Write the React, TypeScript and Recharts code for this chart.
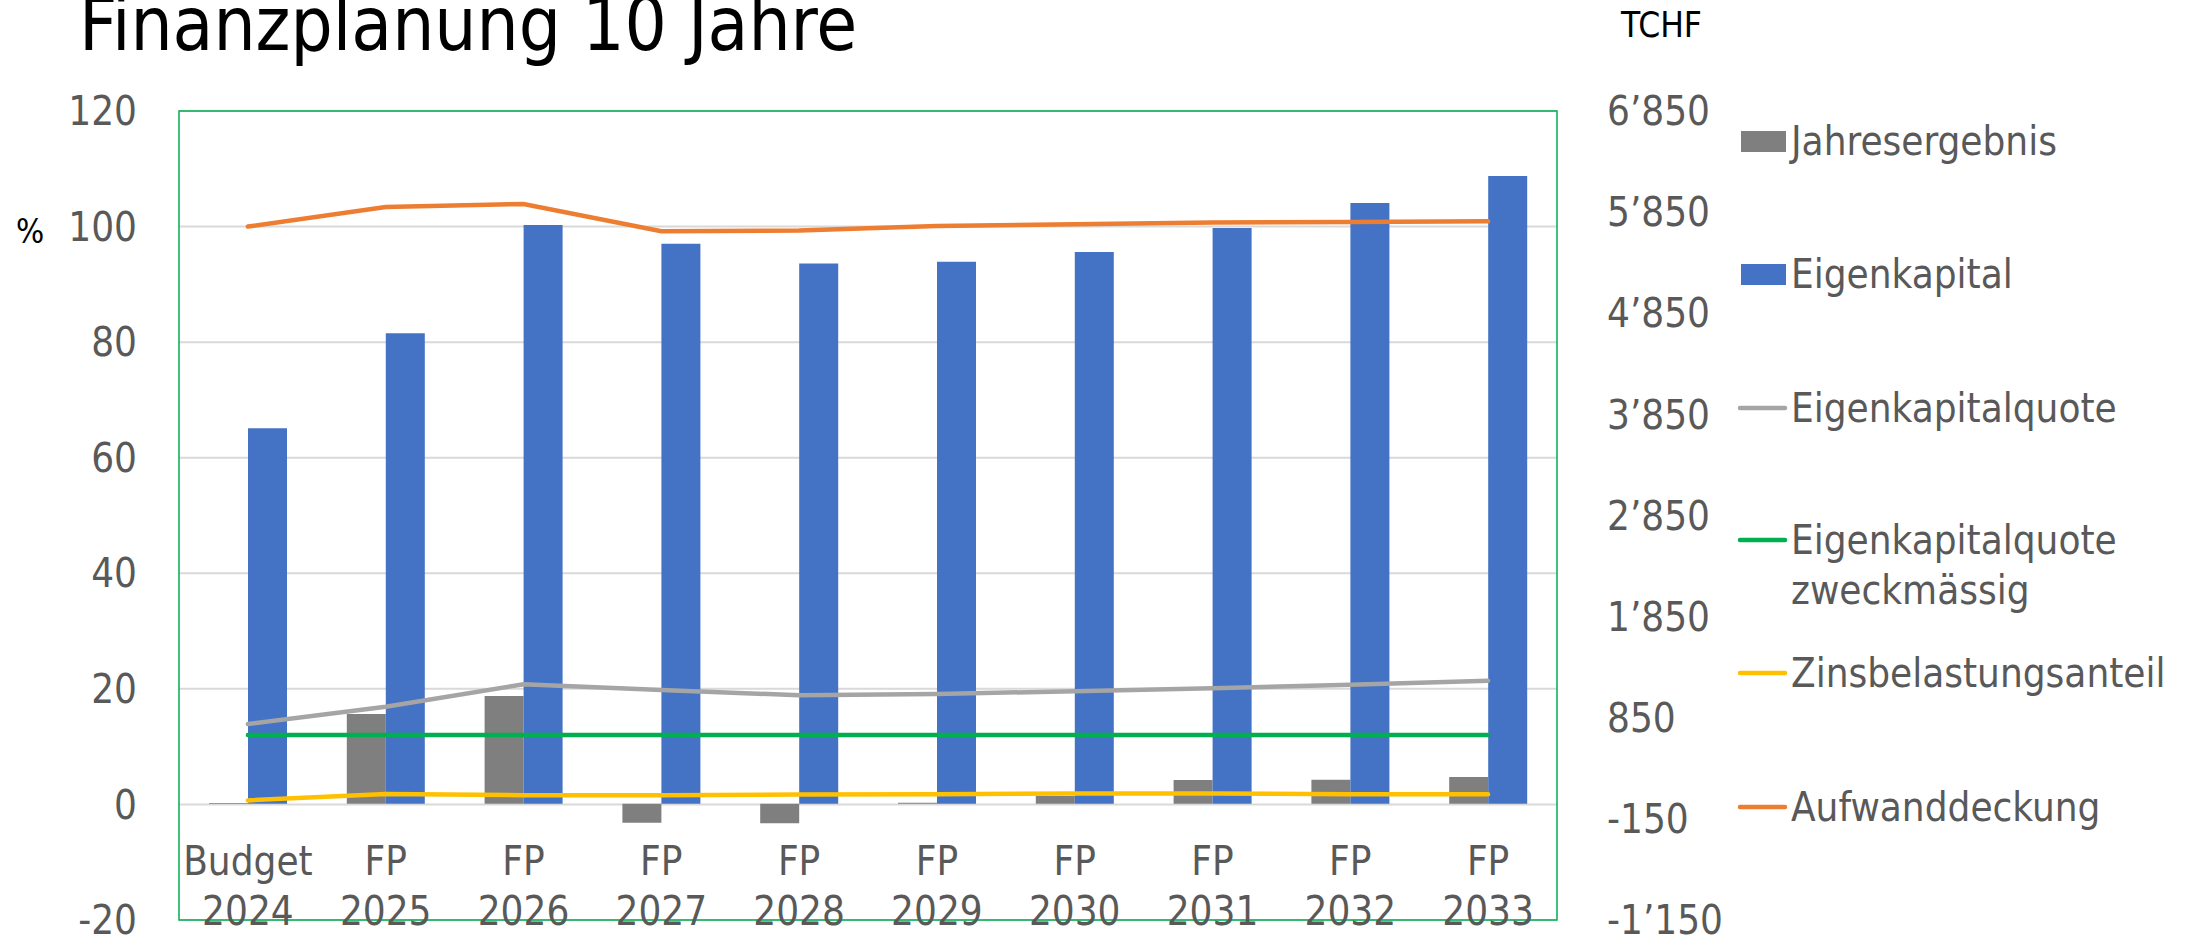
import React from 'react';
import { ComposedChart, Bar, Line, XAxis, YAxis, CartesianGrid, ReferenceArea } from 'recharts';

const categories = ['Budget 2024', 'FP 2025', 'FP 2026', 'FP 2027', 'FP 2028', 'FP 2029', 'FP 2030', 'FP 2031', 'FP 2032', 'FP 2033'];
const jahresergebnis = [8, 887, 1065, -188, -194, 10, 76, 234, 237, 264];
const eigenkapital = [3712, 4651, 5722, 5537, 5343, 5359, 5455, 5692, 5940, 6207];
const eigenkapitalquote = [13.9, 16.9, 20.8, 19.8, 18.9, 19.1, 19.6, 20.1, 20.7, 21.4];
const ekqZweckmaessig = [12, 12, 12, 12, 12, 12, 12, 12, 12, 12];
const zinsbelastungsanteil = [0.7, 1.8, 1.6, 1.6, 1.7, 1.75, 1.9, 1.9, 1.75, 1.75];
const aufwanddeckung = [100.0, 103.4, 103.9, 99.2, 99.3, 100.1, 100.4, 100.7, 100.8, 100.9];

const leftTicks = [-20, 0, 20, 40, 60, 80, 100, 120];
const rightTicks = [-1150, -150, 850, 1850, 2850, 3850, 4850, 5850, 6850];
const rightTickLabels = ['-1\u2019150', '-150', '850', '1\u2019850', '2\u2019850', '3\u2019850', '4\u2019850', '5\u2019850', '6\u2019850'];

const title = 'Finanzplanung 10 Jahre';
const leftUnit = '%';
const rightUnit = 'TCHF';

const colors = {
  jahresergebnis: '#7F7F7F',
  eigenkapital: '#4472C4',
  eigenkapitalquote: '#A5A5A5',
  ekqZweckmaessig: '#00B050',
  zins: '#FFC000',
  aufwand: '#ED7D31',
};

const legendItems = [
  { label: ['Jahresergebnis'], color: colors.jahresergebnis, kind: 'rect' },
  { label: ['Eigenkapital'], color: colors.eigenkapital, kind: 'rect' },
  { label: ['Eigenkapitalquote'], color: colors.eigenkapitalquote, kind: 'line' },
  { label: ['Eigenkapitalquote', 'zweckmässig'], color: colors.ekqZweckmaessig, kind: 'line' },
  { label: ['Zinsbelastungsanteil'], color: colors.zins, kind: 'line' },
  { label: ['Aufwanddeckung'], color: colors.aufwand, kind: 'line' },
];

const data = categories.map((c, i) => ({
  cat: c,
  jahresergebnis: jahresergebnis[i],
  eigenkapital: eigenkapital[i],
  eigenkapitalquote: eigenkapitalquote[i],
  ekqZweckmaessig: ekqZweckmaessig[i],
  zins: zinsbelastungsanteil[i],
  aufwand: aufwanddeckung[i],
}));

const FONT = "'DejaVu Sans Condensed', 'DejaVu Sans', sans-serif";
const TEXT_GRAY = '#595959';
const TICK_SIZE = 40;

const XTick = (props: any) => {
  const { x, y, payload } = props;
  const parts = String(payload.value).split(' ');
  return (
    <text x={x} y={y} textAnchor="middle" fill={TEXT_GRAY} fontSize={TICK_SIZE} fontFamily={FONT} style={{ fontStretch: 'condensed' }}>
      <tspan x={x} dy={-45}>{parts[0]}</tspan>
      <tspan x={x} dy={50}>{parts[1]}</tspan>
    </text>
  );
};

const rightFormatter = (v: number) => {
  const idx = rightTicks.indexOf(v);
  return idx >= 0 ? rightTickLabels[idx] : String(v);
};

const Overlay = () => {
  const legendTops = [141, 274, 408, 540, 673, 807];
  return (
    <svg width={2186} height={939} style={{ position: 'absolute', left: 0, top: 0, pointerEvents: 'none' }}>
      <text x={79} y={50} fontSize={74} fontFamily={FONT} fill="#000" style={{ fontStretch: 'condensed' }}>{title}</text>
      <text x={16} y={243} fontSize={33} fontFamily={FONT} fill="#000" style={{ fontStretch: 'condensed' }}>{leftUnit}</text>
      <text x={1621} y={37} fontSize={35} fontFamily={FONT} fill="#000" style={{ fontStretch: 'condensed' }}>{rightUnit}</text>
      {legendItems.map((item, i) => {
        const cy = legendTops[i];
        return (
          <g key={i}>
            {item.kind === 'rect' ? (
              <rect x={1741} y={cy - 10} width={45} height={21} fill={item.color} />
            ) : (
              <line x1={1740} x2={1785} y1={cy} y2={cy} stroke={item.color} strokeWidth={4.5} strokeLinecap="round" />
            )}
            <text x={1791} y={cy} fontSize={TICK_SIZE} fontFamily={FONT} fill={TEXT_GRAY} style={{ fontStretch: 'condensed' }}>
              {item.label.map((l, j) => (
                <tspan key={j} x={1791} dy={j === 0 ? '0.36em' : 50}>{l}</tspan>
              ))}
            </text>
          </g>
        );
      })}
    </svg>
  );
};

export default function App() {
  return (
    <div style={{ position: 'absolute', left: 0, top: 0, width: 2186, height: 939, background: '#fff' }}>
      <ComposedChart
        width={2186}
        height={939}
        data={data}
        margin={{ top: 111, right: 0, bottom: 0, left: 0 }}
        barGap={0}
      >
        <CartesianGrid yAxisId="left" vertical={false} stroke="#D9D9D9" strokeWidth={2} />
        <XAxis
          dataKey="cat"
          height={19}
          axisLine={false}
          tickLine={false}
          tickSize={0}
          tickMargin={0}
          interval={0}
          tick={<XTick />}
        />
        <YAxis
          yAxisId="left"
          orientation="left"
          width={179}
          domain={[-20, 120]}
          ticks={leftTicks}
          interval={0}
          axisLine={false}
          tickLine={false}
          tickSize={0}
          tickMargin={42}
          tick={{ fill: TEXT_GRAY, fontSize: TICK_SIZE, fontFamily: FONT, style: { fontStretch: 'condensed' } }}
        />
        <YAxis
          yAxisId="right"
          orientation="right"
          width={629}
          domain={[-1150, 6850]}
          ticks={rightTicks}
          interval={0}
          tickFormatter={rightFormatter}
          axisLine={false}
          tickLine={false}
          tickSize={0}
          tickMargin={50}
          allowDataOverflow
          tick={{ fill: TEXT_GRAY, fontSize: TICK_SIZE, fontFamily: FONT, style: { fontStretch: 'condensed' } }}
        />
        <Bar yAxisId="right" dataKey="jahresergebnis" name="Jahresergebnis" fill={colors.jahresergebnis} barSize={39} isAnimationActive={false} />
        <Bar yAxisId="right" dataKey="eigenkapital" name="Eigenkapital" fill={colors.eigenkapital} barSize={39} isAnimationActive={false} />
        <Line yAxisId="left" type="linear" dataKey="eigenkapitalquote" name="Eigenkapitalquote" stroke={colors.eigenkapitalquote} strokeWidth={4.5} strokeLinecap="round" dot={false} isAnimationActive={false} />
        <Line yAxisId="left" type="linear" dataKey="ekqZweckmaessig" name="Eigenkapitalquote zweckmässig" stroke={colors.ekqZweckmaessig} strokeWidth={4.5} strokeLinecap="round" dot={false} isAnimationActive={false} />
        <Line yAxisId="left" type="linear" dataKey="zins" name="Zinsbelastungsanteil" stroke={colors.zins} strokeWidth={4.5} strokeLinecap="round" dot={false} isAnimationActive={false} />
        <Line yAxisId="left" type="linear" dataKey="aufwand" name="Aufwanddeckung" stroke={colors.aufwand} strokeWidth={4.5} strokeLinecap="round" dot={false} isAnimationActive={false} />
        <ReferenceArea yAxisId="left" y1={-20} y2={120} fill="none" fillOpacity={0} stroke="#00B050" strokeWidth={1.5} />
      </ComposedChart>
      <Overlay />
    </div>
  );
}
